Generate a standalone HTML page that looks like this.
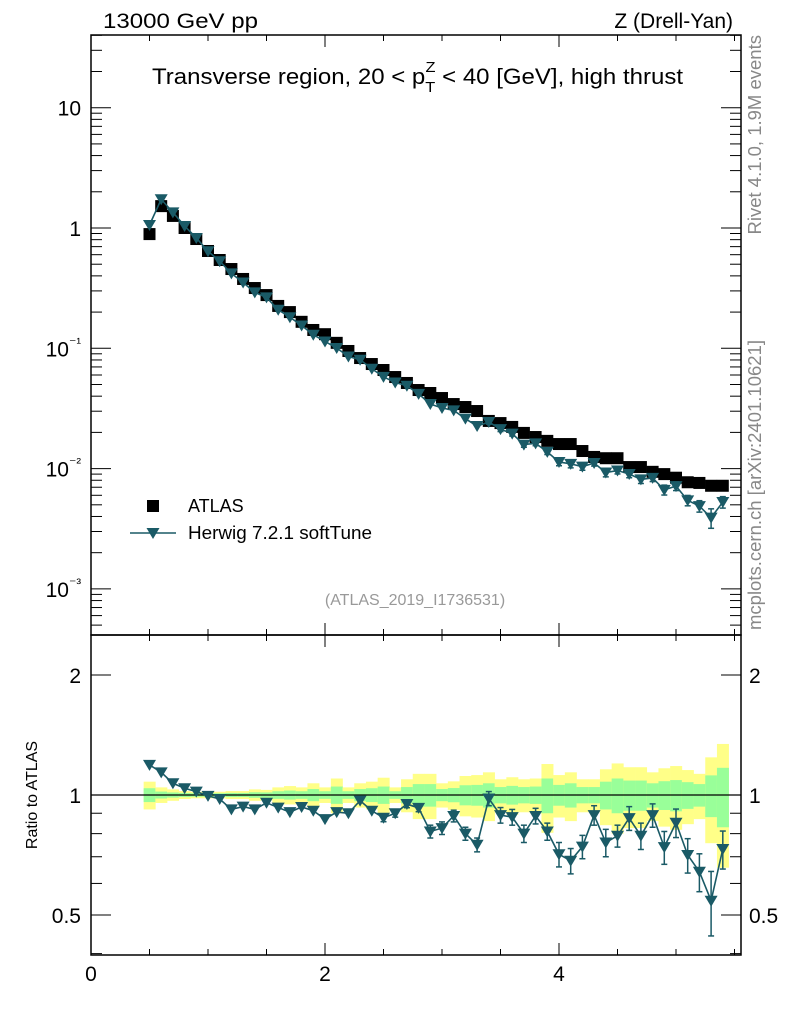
<!DOCTYPE html>
<html><head><meta charset="utf-8">
<style>
html,body{margin:0;padding:0;background:#fff;}
svg{display:block;font-family:"Liberation Sans",sans-serif;}
</style></head>
<body>
<svg id="chart" width="786" height="1024" viewBox="0 0 786 1024" xmlns="http://www.w3.org/2000/svg">
<text x="103" y="28" font-size="21" textLength="155" lengthAdjust="spacingAndGlyphs">13000 GeV pp</text>
<text x="733" y="28" font-size="21" text-anchor="end">Z (Drell-Yan)</text>
<text x="152" y="84" font-size="22" textLength="531" lengthAdjust="spacingAndGlyphs">Transverse region, 20 &lt; p<tspan dy="8" font-size="15">T</tspan><tspan dx="-9" dy="-20" font-size="15">Z</tspan><tspan dy="12"> &lt; 40 [GeV], high thrust</tspan></text>
<text transform="translate(761,35) rotate(-90)" font-size="18.5" fill="#888" text-anchor="end">Rivet 4.1.0, 1.9M events</text>
<text transform="translate(761,630) rotate(-90)" font-size="18.5" fill="#888">mcplots.cern.ch [arXiv:2401.10621]</text>
<text x="415" y="605" font-size="16" fill="#999" text-anchor="middle">(ATLAS_2019_I1736531)</text>
<text transform="translate(37,795) rotate(-90)" font-size="16" text-anchor="middle">Ratio to ATLAS</text>
<g id="bands"></g>
<g id="axes"></g>
<g id="marks"></g>
<g>
<rect x="147" y="500" width="12" height="12" fill="#000"/>
<text x="188" y="512" font-size="18">ATLAS</text>
<line x1="130" y1="533" x2="176" y2="533" stroke="#1a5a66" stroke-width="1.6"/>
<path d="M146.5,528 L159.5,528 L153,539 Z" fill="#1a5a66"/>
<text x="188" y="539" font-size="18" textLength="184" lengthAdjust="spacingAndGlyphs">Herwig 7.2.1 softTune</text>
</g>
</svg>
<script>
const xCenters = [0.5,0.6,0.7,0.8,0.9,1.0,1.1,1.2,1.3,1.4,1.5,1.6,1.7,1.8,1.9,2.0,2.1,2.2,2.3,2.4,2.5,2.6,2.7,2.8,2.9,3.0,3.1,3.2,3.3,3.4,3.5,3.6,3.7,3.8,3.9,4.0,4.1,4.2,4.3,4.4,4.5,4.6,4.7,4.8,4.9,5.0,5.1,5.2,5.3,5.4];
const atlasValues = [0.89,1.52,1.26,1.0,0.81,0.644,0.542,0.456,0.377,0.317,0.277,0.225,0.2,0.166,0.142,0.131,0.111,0.095,0.083,0.074,0.066,0.0577,0.0515,0.045,0.0425,0.0386,0.0344,0.0325,0.0301,0.0249,0.0239,0.0222,0.0198,0.0183,0.017,0.016,0.016,0.014,0.0125,0.0122,0.0122,0.0103,0.0103,0.0094,0.009,0.0084,0.0077,0.0076,0.0072,0.0072];
const herwigRatio = [1.19,1.14,1.07,1.04,1.02,0.995,0.977,0.92,0.935,0.92,0.956,0.93,0.906,0.933,0.913,0.87,0.906,0.9,0.968,0.913,0.877,0.9,0.949,0.928,0.81,0.826,0.886,0.8,0.75,0.98,0.89,0.88,0.8,0.886,0.81,0.71,0.684,0.742,0.89,0.76,0.79,0.875,0.79,0.89,0.74,0.852,0.707,0.642,0.543,0.732];
const herwigErr = [0.01,0.01,0.01,0.01,0.01,0.01,0.01,0.01,0.01,0.01,0.015,0.015,0.015,0.015,0.015,0.015,0.015,0.015,0.015,0.015,0.02,0.02,0.02,0.02,0.03,0.03,0.03,0.03,0.03,0.04,0.04,0.04,0.04,0.04,0.04,0.05,0.05,0.05,0.05,0.06,0.05,0.06,0.06,0.06,0.07,0.07,0.07,0.07,0.1,0.08];
const yellowErr = [0.08,0.045,0.033,0.023,0.019,0.019,0.019,0.023,0.023,0.033,0.03,0.045,0.053,0.045,0.07,0.045,0.1,0.045,0.07,0.08,0.105,0.045,0.095,0.13,0.13,0.07,0.082,0.116,0.122,0.14,0.095,0.108,0.095,0.1,0.196,0.122,0.14,0.095,0.095,0.16,0.2,0.174,0.174,0.14,0.167,0.182,0.155,0.13,0.243,0.343];
const greenErr = [0.04,0.02,0.015,0.012,0.01,0.01,0.01,0.012,0.012,0.016,0.015,0.022,0.026,0.022,0.035,0.022,0.05,0.022,0.035,0.04,0.05,0.022,0.047,0.065,0.065,0.035,0.041,0.058,0.06,0.07,0.047,0.054,0.047,0.05,0.1,0.06,0.07,0.047,0.047,0.08,0.1,0.087,0.087,0.07,0.083,0.09,0.077,0.065,0.12,0.17];
const xTickLabels = ["0","2","4"];
const mainTickLabels = ["10","1","10\u207B\u00B9","10\u207B\u00B2","10\u207B\u00B3"];
const ratioTickLabels = ["2","1","0.5"];

const NS="http://www.w3.org/2000/svg";
const L=91,R=741,MT=35,MB=635,RB=955;
const HW="#1a5a66";
function X(v){return L+(v-0)*117;}
function Y(v){return 228-Math.log10(v)*120.3;}
function YR(v){return 795-Math.log10(v)*398.6;}
function mk(parent,tag,attrs){const e=document.createElementNS(NS,tag);for(const k in attrs)e.setAttribute(k,attrs[k]);parent.appendChild(e);return e;}
const axes=document.getElementById('axes'),marks=document.getElementById('marks'),bands=document.getElementById('bands');

xCenters.forEach((c,i)=>{
  let r=mk(bands,'rect',{x:X(c-0.05),y:YR(1+yellowErr[i]),width:117*0.1+0.3,height:YR(1-yellowErr[i])-YR(1+yellowErr[i]),fill:'#ffff88'});
  
  
  let g=mk(bands,'rect',{x:X(c-0.05),y:YR(1+greenErr[i]),width:117*0.1+0.3,height:YR(1-greenErr[i])-YR(1+greenErr[i]),fill:'#99ff99'});
  
  
});

let f1=mk(axes,'rect',{x:L,y:MT,width:R-L,height:MB-MT,fill:'none',stroke:'#000','stroke-width':1.5});


let f2=mk(axes,'rect',{x:L,y:MB,width:R-L,height:RB-MB,fill:'none',stroke:'#000','stroke-width':1.5});


let one=mk(axes,'line',{x1:L,x2:R,y1:YR(1),y2:YR(1),stroke:'#000','stroke-width':1.2});



for(let v=0;v<=5.5;v+=0.5){
  const maj=(v%2===0);const len=maj?12:6;
  [MT,MB].forEach(y0=>{mk(axes,'line',{x1:X(v),x2:X(v),y1:y0,y2:y0+len,stroke:'#000'});});
  [MB,RB].forEach(y0=>{mk(axes,'line',{x1:X(v),x2:X(v),y1:y0,y2:y0-len,stroke:'#000'});});
}
xTickLabels.forEach(t=>{
  const e=mk(axes,'text',{x:X(+t),y:981,'font-size':21,'text-anchor':'middle'});e.textContent=t;
  
  
});
for(let d=-4;d<=1;d++){for(let m=1;m<=9;m++){const v=m*Math.pow(10,d);const y=Y(v);if(y<MT||y>MB)continue;const len=m===1?20:11;
  mk(axes,'line',{x1:L,x2:L+len,y1:y,y2:y,stroke:'#000'});mk(axes,'line',{x1:R,x2:R-len,y1:y,y2:y,stroke:'#000'});}}
[10,1,0.1,0.01,0.001].forEach((v,i)=>{
  const t=mainTickLabels[i];const e=mk(axes,'text',{x:L-10,y:Y(v)+8,'font-size':21,'text-anchor':'end'});
  if(t.length>2&&i>1){e.textContent='10';const s=mk(e,'tspan',{dy:-9,'font-size':14});s.textContent=t.slice(2);}else e.textContent=t;
  
  
});
[0.4,0.5,0.6,0.7,0.8,0.9,1,2].forEach(v=>{const y=YR(v);const len=(v===1||v===2||v===0.5)?20:11;
  mk(axes,'line',{x1:L,x2:L+len,y1:y,y2:y,stroke:'#000'});mk(axes,'line',{x1:R,x2:R-len,y1:y,y2:y,stroke:'#000'});});
ratioTickLabels.forEach(t=>{
  const e=mk(axes,'text',{x:L-10,y:YR(+t)+8,'font-size':21,'text-anchor':'end'});e.textContent=t;
  
  
  const e2=mk(axes,'text',{x:R+8,y:YR(+t)+8,'font-size':21});e2.textContent=t;
  
  
});

xCenters.forEach((c,i)=>{
  const s=mk(marks,'rect',{x:X(c)-6,y:Y(atlasValues[i])-6,width:12,height:12,fill:'#000'});
  
  
});
const hv=xCenters.map((c,i)=>atlasValues[i]*herwigRatio[i]);
const pl=mk(marks,'polyline',{points:xCenters.map((c,i)=>X(c)+','+Y(hv[i])).join(' '),fill:'none',stroke:HW,'stroke-width':1.6});


function tri(x,y,name){const p=mk(marks,'path',{d:`M${x-6.5},${y-5} L${x+6.5},${y-5} L${x},${y+6} Z`,fill:HW});
  
  }
function eb(x,y1,y2){mk(marks,'line',{x1:x,x2:x,y1:y1,y2:y2,stroke:HW,'stroke-width':1.5});
  mk(marks,'line',{x1:x-3,x2:x+3,y1:y1,y2:y1,stroke:HW,'stroke-width':1.5});mk(marks,'line',{x1:x-3,x2:x+3,y1:y2,y2:y2,stroke:HW,'stroke-width':1.5});}
xCenters.forEach((c,i)=>{
  const e=herwigErr[i]/herwigRatio[i];
  if(herwigErr[i]>=0.04)eb(X(c),Y(hv[i]*(1+e)),Y(hv[i]*(1-e)));
  tri(X(c),Y(hv[i]),'herwig-point');
});
const pr=mk(marks,'polyline',{points:xCenters.map((c,i)=>X(c)+','+YR(herwigRatio[i])).join(' '),fill:'none',stroke:HW,'stroke-width':1.6});


xCenters.forEach((c,i)=>{
  if(herwigErr[i]>=0.02)eb(X(c),YR(herwigRatio[i]+herwigErr[i]),YR(herwigRatio[i]-herwigErr[i]));
  tri(X(c),YR(herwigRatio[i]),'herwig-ratio-point');
});
</script>
</body></html>
